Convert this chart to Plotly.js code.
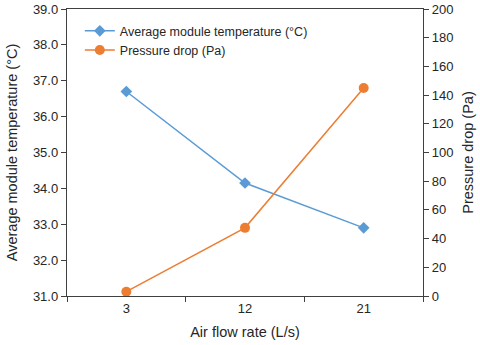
<!DOCTYPE html>
<html><head><meta charset="utf-8">
<script src="https://cdn.plot.ly/plotly-3.0.1.min.js"></script>
<style>html,body{margin:0;padding:0;background:#fff}#chart{width:480px;height:345px}</style>
</head><body><div id="chart"></div>
<script>
const categories = ['3', '12', '21'];
const avgTemp = [36.70, 34.15, 32.90];
const pressureDrop = [3, 47.5, 145];

const font = {family: 'Liberation Sans, Arial, sans-serif', color: '#262626'};
const traces = [
  {x: categories, y: avgTemp, name: 'Average module temperature (°C)', type: 'scatter', mode: 'lines+markers',
   line: {color: '#5B9BD5', width: 1.5}, marker: {symbol: 'diamond', size: 9, color: '#5B9BD5'}, yaxis: 'y'},
  {x: categories, y: pressureDrop, name: 'Pressure drop (Pa)', type: 'scatter', mode: 'lines+markers',
   line: {color: '#ED7D31', width: 1.5}, marker: {symbol: 'circle', size: 10, color: '#ED7D31'}, yaxis: 'y2'}
];
const layout = {
  width: 480, height: 345,
  margin: {l: 67, r: 57, t: 9, b: 49},
  paper_bgcolor: '#fff', plot_bgcolor: '#fff',
  font: Object.assign({size: 13}, font),
  showlegend: true,
  legend: {x: 0.036, y: 0.975, xanchor: 'left', yanchor: 'top', bgcolor: 'rgba(0,0,0,0)',
           font: Object.assign({size: 12.5}, font), tracegroupgap: 0},
  xaxis: {type: 'category', range: [-0.5, 2.5], tickson: 'boundaries', ticks: 'outside', ticklen: 5,
          tickcolor: '#404040', showline: true, linecolor: '#404040', linewidth: 1.2, mirror: true,
          showgrid: false, zeroline: false, tickfont: Object.assign({size: 13}, font),
          title: {text: 'Air flow rate (L/s)', font: Object.assign({size: 14.5}, font), standoff: 12}},
  yaxis: {range: [31, 39], dtick: 1, tickformat: '.1f', ticks: 'outside', ticklen: 5, tickcolor: '#404040',
          showline: true, linecolor: '#404040', linewidth: 1.2, showgrid: false, zeroline: false,
          tickfont: Object.assign({size: 13}, font),
          title: {text: 'Average module temperature (°C)', font: Object.assign({size: 14.5}, font), standoff: 11}},
  yaxis2: {range: [0, 200], dtick: 20, overlaying: 'y', side: 'right', ticks: 'outside', ticklen: 5,
           tickcolor: '#404040', showline: true, linecolor: '#404040', linewidth: 1.2, showgrid: false,
           zeroline: false, tickfont: Object.assign({size: 13}, font),
           title: {text: 'Pressure drop (Pa)', font: Object.assign({size: 14.5}, font), standoff: 10}}
};
Plotly.newPlot('chart', traces, layout, {staticPlot: true, displayModeBar: false});
</script></body></html>
